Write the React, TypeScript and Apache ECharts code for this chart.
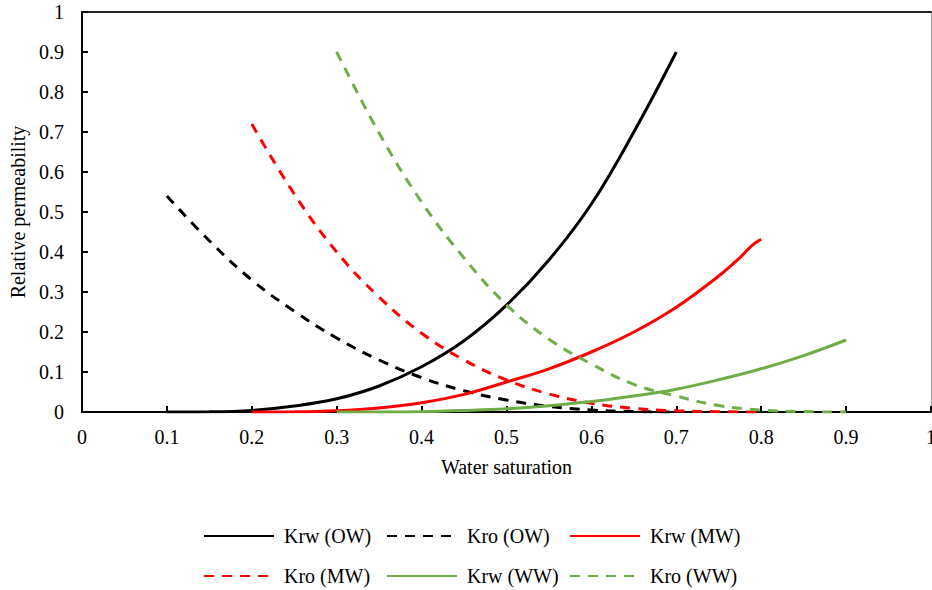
import React, { useEffect, useRef } from "react";
import * as echarts from "echarts";

const xTicks = [0, 0.1, 0.2, 0.3, 0.4, 0.5, 0.6, 0.7, 0.8, 0.9, 1];

const swOW = [0.1, 0.15, 0.2, 0.25, 0.3, 0.35, 0.4, 0.45, 0.5, 0.55, 0.6, 0.65, 0.7];
const krwOW = [0, 0.0005, 0.004, 0.015, 0.033, 0.065, 0.113, 0.178, 0.267, 0.38, 0.52, 0.7, 0.9];
const kroOW = [0.54, 0.428, 0.33, 0.252, 0.185, 0.13, 0.086, 0.053, 0.03, 0.014, 0.005, 0.001, 0];

const swMW = [0.2, 0.25, 0.3, 0.35, 0.4, 0.45, 0.5, 0.55, 0.6, 0.65, 0.7, 0.75, 0.775, 0.79, 0.8];
const krwMW = [0, 0.0004, 0.003, 0.01, 0.023, 0.044, 0.075, 0.108, 0.15, 0.2, 0.262, 0.34, 0.386, 0.418, 0.432];
const swMWo = [0.2, 0.25, 0.3, 0.35, 0.4, 0.45, 0.5, 0.55, 0.6, 0.65, 0.7, 0.75, 0.8];
const kroMW = [0.72, 0.545, 0.4, 0.287, 0.197, 0.13, 0.08, 0.045, 0.022, 0.009, 0.003, 0.0007, 0];

const swWW = [0.3, 0.35, 0.4, 0.45, 0.5, 0.55, 0.6, 0.65, 0.7, 0.75, 0.8, 0.85, 0.9];
const krwWW = [0, 0.0001, 0.0008, 0.0037, 0.008, 0.0156, 0.026, 0.04, 0.057, 0.0805, 0.108, 0.141, 0.18];
const kroWW = [0.9, 0.697, 0.525, 0.385, 0.268, 0.182, 0.12, 0.069, 0.04, 0.016, 0.005, 0.001, 0];

const names = ["Krw (OW)", "Kro (OW)", "Krw (MW)", "Kro (MW)", "Krw (WW)", "Kro (WW)"];

const FONT = "Liberation Serif";

function pairs(xs: number[], ys: number[]) {
  return xs.map((x, i) => [x, ys[i]]);
}

export default function App() {
  const ref = useRef<HTMLDivElement>(null);
  useEffect(() => {
    if (!ref.current) return;
    const chart = echarts.init(ref.current, undefined, { renderer: "svg" });
    const mk = (name: string, xs: number[], ys: number[], color: string, dashed: boolean) => ({
      name,
      type: "line",
      data: pairs(xs, ys),
      symbol: "none",
      smooth: 0.4,
      xAxisIndex: 0,
      yAxisIndex: 0,
      lineStyle: { color, width: 3, type: dashed ? [10, 8] : "solid" },
      itemStyle: { color },
    });
    const colLeft = [203, 386, 569];
    const rowTop = [526, 566];
    const legends = names.map((n, i) => ({
      left: colLeft[i % 3],
      top: rowTop[Math.floor(i / 3)],
      padding: 0,
      itemWidth: 70,
      itemHeight: 14,
      orient: "horizontal",
      itemStyle: { opacity: 0, borderWidth: 0 },
      textStyle: {
        fontFamily: FONT,
        fontSize: 20,
        color: "#000",
        padding: [0, 0, 0, 5],
      },
      selectedMode: false,
      data: [n],
    }));
    chart.setOption({
      animation: false,
      backgroundColor: "#fff",
      textStyle: { fontFamily: FONT },
      grid: { left: 82, right: 1, top: 12, bottom: 178, containLabel: false, outerBoundsMode: "none" },
      xAxis: [
        {
          type: "value",
          min: 0,
          max: 1,
          interval: 0.1,
          name: "Water saturation",
          nameLocation: "middle",
          nameGap: 45,
          nameTextStyle: { fontFamily: FONT, fontSize: 20, color: "#000" },
          axisLine: { show: true, onZero: false, lineStyle: { color: "#000", width: 2 } },
          axisTick: { show: true, inside: true, length: 6, lineStyle: { color: "#000", width: 2 } },
          axisLabel: {
            fontFamily: FONT,
            fontSize: 20,
            color: "#000",
            margin: 15,
            formatter: (v: number) => {
              const t = xTicks.find((k) => Math.abs(k - v) < 1e-6);
              return String(t !== undefined ? t : v);
            },
          },
          splitLine: { show: false },
        },
        {
          type: "value",
          position: "top",
          min: 0,
          max: 1,
          interval: 0.1,
          axisLine: { show: true, onZero: false, lineStyle: { color: "#222", width: 2 } },
          axisTick: { show: false },
          axisLabel: { show: false },
          splitLine: { show: false },
        },
      ],
      yAxis: [
        {
          type: "value",
          min: 0,
          max: 1,
          interval: 0.1,
          name: "Relative permeability",
          nameLocation: "middle",
          nameGap: 54,
          nameTextStyle: { fontFamily: FONT, fontSize: 20, color: "#000" },
          axisLine: { show: true, onZero: false, lineStyle: { color: "#000", width: 2 } },
          axisTick: { show: true, inside: true, length: 6, lineStyle: { color: "#000", width: 2 } },
          axisLabel: {
            fontFamily: FONT,
            fontSize: 20,
            color: "#000",
            margin: 18,
            formatter: (v: number) => String(Math.round(v * 10) / 10),
          },
          splitLine: { show: false },
        },
        {
          type: "value",
          position: "right",
          min: 0,
          max: 1,
          interval: 0.1,
          axisLine: { show: true, onZero: false, lineStyle: { color: "#999", width: 1 } },
          axisTick: { show: false },
          axisLabel: { show: false },
          splitLine: { show: false },
        },
      ],
      legend: legends,
      series: [
        mk(names[0], swOW, krwOW, "#000000", false),
        mk(names[1], swOW, kroOW, "#000000", true),
        mk(names[2], swMW, krwMW, "#ff0000", false),
        mk(names[3], swMWo, kroMW, "#ff0000", true),
        mk(names[4], swWW, krwWW, "#70ad47", false),
        mk(names[5], swWW, kroWW, "#70ad47", true),
      ],
    });
    return () => chart.dispose();
  }, []);
  return (
    <div
      ref={ref}
      style={{ position: "fixed", left: 0, top: 0, width: 932, height: 590 }}
    />
  );
}
